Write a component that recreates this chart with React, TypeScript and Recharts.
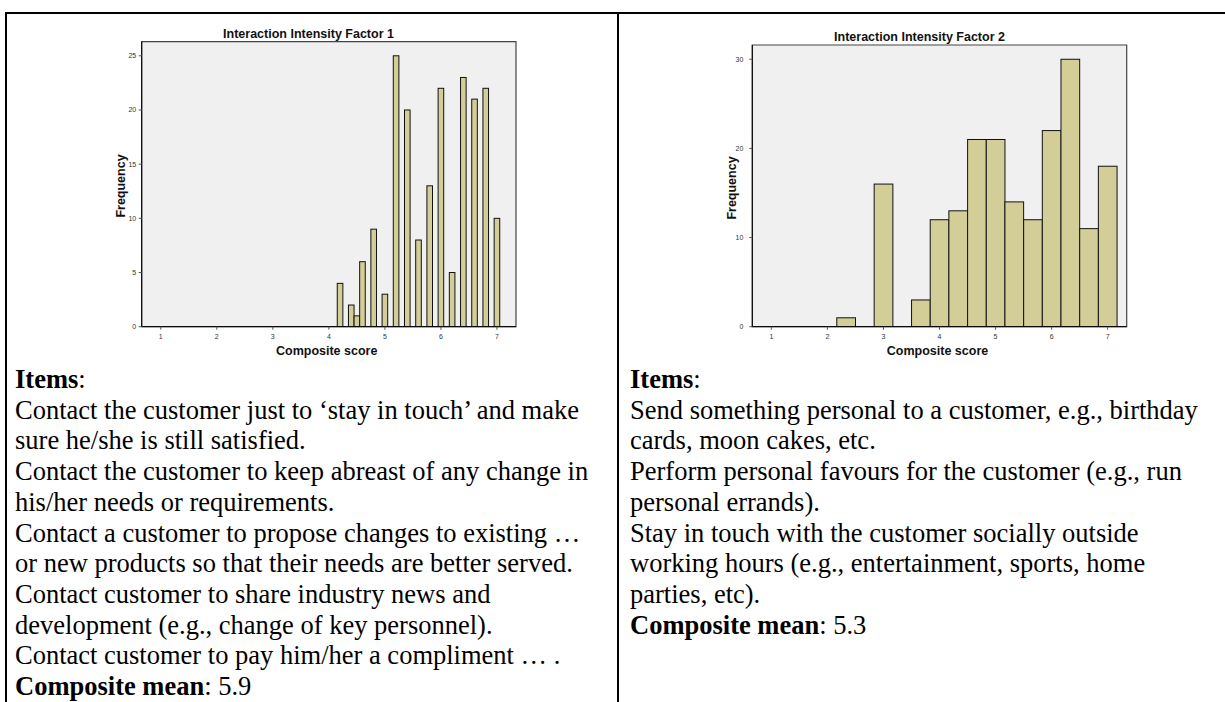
import React from 'react';
import { BarChart, Bar, XAxis, YAxis, CartesianGrid, ReferenceArea } from 'recharts';

// ---- Data ----
const factor1Scores = [4.2, 4.4, 4.5, 4.6, 4.8, 5.0, 5.2, 5.4, 5.6, 5.8, 6.0, 6.2, 6.4, 6.6, 6.8, 7.0];
const factor1Freq = [4, 2, 1, 6, 9, 3, 25, 20, 8, 13, 22, 5, 23, 21, 22, 10];

const factor2Scores = [2.333, 3.0, 3.667, 4.0, 4.333, 4.667, 5.0, 5.333, 5.667, 6.0, 6.333, 6.667, 7.0];
const factor2Freq = [1, 16, 3, 12, 13, 21, 21, 14, 12, 22, 30, 11, 18];

const xTicks = [1, 2, 3, 4, 5, 6, 7];
const factor1YTicks = [0, 5, 10, 15, 20, 25];
const factor2YTicks = [0, 10, 20, 30];

const titles = ['Interaction Intensity Factor 1', 'Interaction Intensity Factor 2'];
const xLabel = 'Composite score';
const yLabel = 'Frequency';

const leftItems = [
  'Contact the customer just to \u2018stay in touch\u2019 and make',
  'sure he/she is still satisfied.',
  'Contact the customer to keep abreast of any change in',
  'his/her needs or requirements.',
  'Contact a customer to propose changes to existing \u2026',
  'or new products so that their needs are better served.',
  'Contact customer to share industry news and',
  'development (e.g., change of key personnel).',
  'Contact customer to pay him/her a compliment \u2026 .',
];
const rightItems = [
  'Send something personal to a customer, e.g., birthday',
  'cards, moon cakes, etc.',
  'Perform personal favours for the customer (e.g., run',
  'personal errands).',
  'Stay in touch with the customer socially outside',
  'working hours (e.g., entertainment, sports, home',
  'parties, etc).',
];
const means = ['5.9', '5.3'];

// ---- Styles ----
const BAR_FILL = '#d3ce97';
const BAR_STROKE = '#111111';
const PLOT_BG = '#f0f0f0';
const SANS = '"Liberation Sans", Arial, sans-serif';
const SERIF = '"Liberation Serif", "Times New Roman", serif';
const X_DOMAIN: [number, number] = [0.66, 7.34];

const makeShape = (w: number) => (props: any) => {
  const { x, y, width, height } = props;
  if (height == null || !(height > 0)) return <g />;
  const cx = x + width / 2;
  return (
    <rect x={cx - w / 2} y={y} width={w} height={height} fill={BAR_FILL} stroke={BAR_STROKE} strokeWidth={1} />
  );
};

type HistProps = {
  scores: number[];
  freqs: number[];
  yTicks: number[];
  yMax: number;
  barPx: number;
  width: number;
  height: number;
  margin: { top: number; right: number; bottom: number; left: number };
  yTickMargin: number;
};

function Histogram({ scores, freqs, yTicks, yMax, barPx, width, height, margin, yTickMargin }: HistProps) {
  const data = scores.map((s, i) => ({ score: s, freq: freqs[i] }));
  const tickStyle = { fontSize: 7, fill: '#333', fontFamily: SANS };
  return (
    <BarChart width={width} height={height} data={data} margin={margin} barGap={0} barCategoryGap={0}>
      <CartesianGrid horizontal={false} vertical={false} fill={PLOT_BG} />
      <ReferenceArea
        x1={X_DOMAIN[0]}
        x2={X_DOMAIN[1]}
        y1={0}
        y2={yMax}
        fill="none"
        fillOpacity={0}
        stroke="#444"
        strokeWidth={1.2}
        strokeOpacity={1}
        ifOverflow="visible"
      />
      <XAxis
        dataKey="score"
        type="number"
        domain={X_DOMAIN}
        allowDataOverflow
        ticks={xTicks}
        interval={0}
        height={20}
        tick={tickStyle}
        tickSize={3}
        tickMargin={4}
        axisLine={{ stroke: '#000', strokeWidth: 1 }}
        tickLine={{ stroke: '#555' }}
      />
      <YAxis
        type="number"
        domain={[0, yMax]}
        allowDataOverflow
        ticks={yTicks}
        interval={0}
        width={30}
        tick={tickStyle}
        tickSize={3}
        tickMargin={yTickMargin}
        axisLine={{ stroke: '#000', strokeWidth: 1 }}
        tickLine={{ stroke: '#555' }}
      />
      <Bar dataKey="freq" barSize={barPx} isAnimationActive={false} shape={makeShape(barPx)} />
    </BarChart>
  );
}

const labelBase: React.CSSProperties = {
  position: 'absolute',
  fontFamily: SANS,
  fontWeight: 'bold',
  fontSize: 12.5,
  color: '#111',
  whiteSpace: 'nowrap',
  lineHeight: '14px',
};

function CenteredText({ text, cx, cy, rotate }: { text: string; cx: number; cy: number; rotate?: boolean }) {
  return (
    <div
      style={{
        ...labelBase,
        left: cx,
        top: cy,
        transform: `translate(-50%, -50%)${rotate ? ' rotate(-90deg)' : ''}`,
      }}
    >
      {text}
    </div>
  );
}

function TextBlock({ left, lines, mean }: { left: number; lines: string[]; mean: string }) {
  return (
    <div
      style={{
        position: 'absolute',
        left,
        top: 364,
        fontFamily: SERIF,
        fontSize: 26.5,
        lineHeight: '30.7px',
        color: '#000',
        whiteSpace: 'pre',
      }}
    >
      <div>
        <b>Items</b>:
      </div>
      {lines.map((l, i) => (
        <div key={i}>{l}</div>
      ))}
      <div>
        <b>Composite mean</b>: {mean}
      </div>
    </div>
  );
}

export default function App() {
  return (
    <div style={{ position: 'relative', width: 1225, height: 702, background: '#fff', overflow: 'hidden' }}>
      <style>{'body{margin:0;}'}</style>
      {/* table borders */}
      <div style={{ position: 'absolute', left: 5, top: 12, width: 1220, height: 2, background: '#000' }} />
      <div style={{ position: 'absolute', left: 5, top: 12, width: 2, height: 690, background: '#000' }} />
      <div style={{ position: 'absolute', left: 617, top: 12, width: 2, height: 690, background: '#000' }} />

      {/* left chart */}
      <div style={{ position: 'absolute', left: 0, top: 0 }}>
        <Histogram
          scores={factor1Scores}
          freqs={factor1Freq}
          yTicks={factor1YTicks}
          yMax={26.3}
          barPx={5.6}
          width={612}
          height={370}
          margin={{ top: 41.7, right: 96, bottom: 23.3, left: 111.7 }}
          yTickMargin={2.5}
        />
      </div>
      <CenteredText text={titles[0]} cx={308.5} cy={34.3} />
      <CenteredText text={yLabel} cx={120.7} cy={185.5} rotate />
      <CenteredText text={xLabel} cx={326.7} cy={351} />

      {/* right chart */}
      <div style={{ position: 'absolute', left: 612, top: 0 }}>
        <Histogram
          scores={factor2Scores}
          freqs={factor2Freq}
          yTicks={factor2YTicks}
          yMax={31.6}
          barPx={18.7}
          width={613}
          height={370}
          margin={{ top: 45, right: 98.3, bottom: 23.3, left: 110.3 }}
          yTickMargin={6}
        />
      </div>
      <CenteredText text={titles[1]} cx={919.5} cy={36.7} />
      <CenteredText text={yLabel} cx={731.7} cy={188.3} rotate />
      <CenteredText text={xLabel} cx={937.5} cy={351} />

      <TextBlock left={15} lines={leftItems} mean={means[0]} />
      <TextBlock left={630} lines={rightItems} mean={means[1]} />
    </div>
  );
}
